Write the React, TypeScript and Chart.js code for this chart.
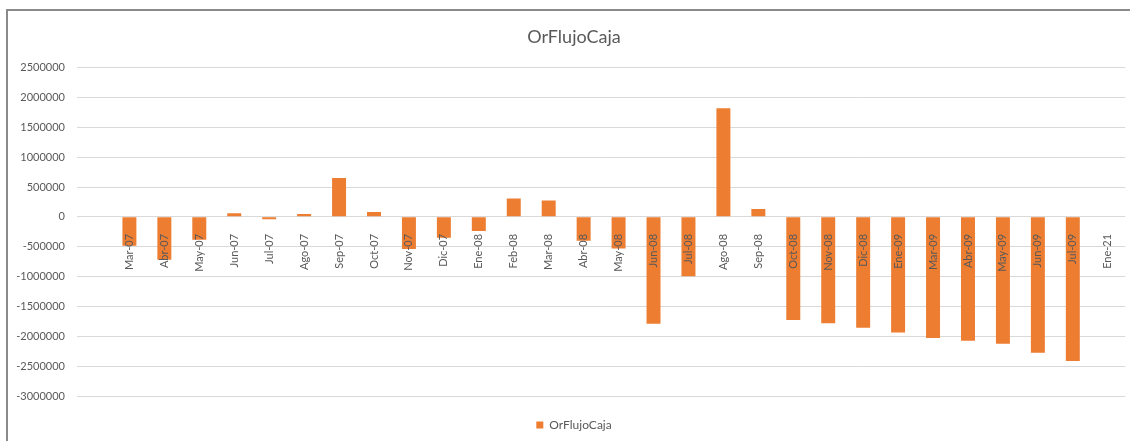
import React, { useEffect, useRef } from "react";
import { Chart, registerables } from "chart.js";

Chart.register(...registerables);

const categories: string[] = [
  "", "Mar-07", "Abr-07", "May-07", "Jun-07", "Jul-07", "Ago-07", "Sep-07", "Oct-07",
  "Nov-07", "Dic-07", "Ene-08", "Feb-08", "Mar-08", "Abr-08", "May-08", "Jun-08",
  "Jul-08", "Ago-08", "Sep-08", "Oct-08", "Nov-08", "Dic-08", "Ene-09", "Mar-09",
  "Abr-09", "May-09", "Jun-09", "Jul-09", "Ene-21",
];

const flujoCaja: (number | null)[] = [
  null, -485000, -720000, -385000, 60000, -38000, 50000, 650000, 80000,
  -540000, -350000, -235000, 308000, 275000, -398000, -530000, -1790000,
  -995000, 1818000, 130000, -1728000, -1783000, -1857000, -1935000, -2030000,
  -2075000, -2126000, -2277000, -2415000, null,
];

const yTicksMin = -3000000;
const yTicksMax = 2500000;
const yStep = 500000;

const seriesName = "OrFlujoCaja";
const FONT = "Lato, 'Open Sans', sans-serif";
const TEXT = "#595959";

const unclipYLabels = {
  id: "unclipYLabels",
  afterLayout(chart: any) {
    const y = chart.scales?.y;
    if (y) y.left = 0;
  },
};

export default function App() {
  const ref = useRef<HTMLCanvasElement | null>(null);
  useEffect(() => {
    if (!ref.current) return;
    const chart = new Chart(ref.current, {
      type: "bar",
      data: {
        labels: categories,
        datasets: [
          {
            label: seriesName,
            data: flujoCaja,
            backgroundColor: "#ED7D31",
            borderWidth: 0,
            categoryPercentage: 1,
            barPercentage: 0.4,
          },
        ],
      },
      plugins: [unclipYLabels],
      options: {
        responsive: false,
        animation: false,
        layout: { padding: { left: 21, right: 3, top: 10, bottom: 0 } },
        plugins: {
          title: {
            display: true,
            text: seriesName,
            color: TEXT,
            font: { family: FONT, size: 18, weight: "normal" },
            padding: { top: 16, bottom: 20 },
          },
          legend: {
            position: "bottom",
            labels: {
              color: TEXT,
              font: { family: FONT, size: 12 },
              boxWidth: 7,
              boxHeight: 7,
              padding: 23,
            },
          },
          tooltip: { enabled: false },
        },
        scales: {
          x: {
            position: { y: 0 } as any,
            grid: { display: false },
            border: { display: false },
            ticks: {
              z: 1,
              autoSkip: false,
              minRotation: 90,
              maxRotation: 90,
              padding: 9,
              color: TEXT,
              font: { family: FONT, size: 11 },
            },
          },
          y: {
            min: yTicksMin,
            max: yTicksMax,
            afterFit: (scale: any) => {
              scale.width = 56;
            },
            grid: { color: "#d9d9d9", drawTicks: false },
            border: { display: false },
            ticks: {
              stepSize: yStep,
              padding: 12,
              color: TEXT,
              font: { family: FONT, size: 11 },
              callback: (v: any) => String(v),
            },
          },
        },
      },
    });
    return () => chart.destroy();
  }, []);

  return (
    <div style={{ position: "fixed", left: 0, top: 0, width: 1130, height: 441, background: "#fff", overflow: "hidden" }}>
      <div
        style={{
          position: "absolute",
          left: 6,
          top: 9,
          width: 1200,
          height: 500,
          borderLeft: "2px solid #8a8a8a",
          borderTop: "2px solid #8a8a8a",
        }}
      />
      <canvas ref={ref} width={1130} height={441} style={{ position: "absolute", left: 0, top: 0, display: "block" }} />
    </div>
  );
}
